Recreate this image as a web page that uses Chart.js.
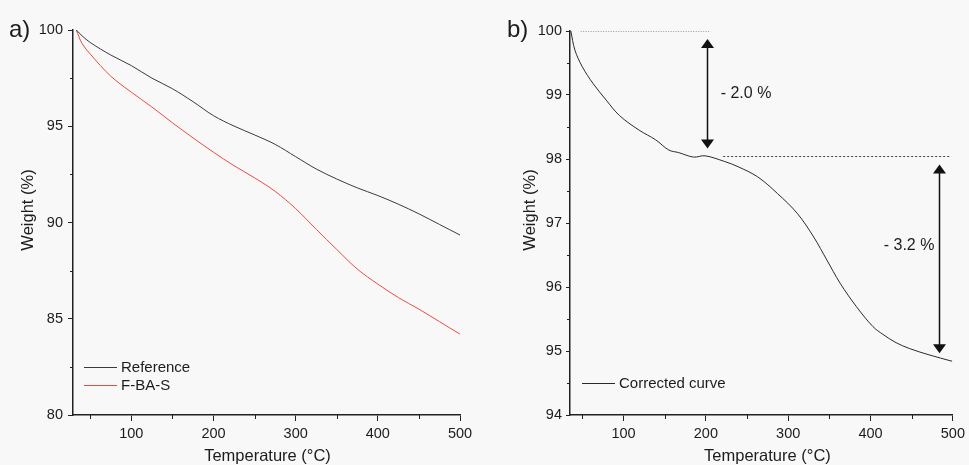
<!DOCTYPE html>
<html>
<head>
<meta charset="utf-8">
<script src="https://cdn.jsdelivr.net/npm/chart.js@4.4.0/dist/chart.umd.min.js"></script>
<style>
  body { margin: 0; background: #f8f8f8; }
  #wrap { position: relative; width: 969px; height: 465px; }
  canvas { position: absolute; top: 0; }
</style>
</head>
<body>
<div id="wrap">
  <canvas id="tgaA" width="480" height="465" style="left:0"></canvas>
  <canvas id="tgaB" width="489" height="465" style="left:480px"></canvas>
</div>
<script>
// ===== a) raw TGA curves =====
const tempA = [33, 40, 50, 75, 100, 125, 150, 175, 200, 225, 250, 275, 300, 325, 350, 375, 400, 425, 450, 475, 500];
const weightReference = [100, 99.7, 99.35, 98.7, 98.15, 97.5, 96.95, 96.28, 95.55, 95.01, 94.55, 94.06, 93.42, 92.78, 92.26, 91.8, 91.4, 90.95, 90.45, 89.9, 89.35];
const weightFBAS = [100, 99.3, 98.75, 97.6, 96.77, 96.0, 95.18, 94.4, 93.65, 92.95, 92.32, 91.62, 90.72, 89.65, 88.6, 87.58, 86.8, 86.1, 85.5, 84.85, 84.2];

// ===== b) corrected curve =====
const tempB = [36, 41, 50, 63, 79, 95, 119, 139, 155, 167, 185, 199, 223, 239, 263, 287, 311, 331, 347, 363, 383, 403, 415, 431, 447, 471, 499];
const weightCorrected = [100, 99.7, 99.44, 99.18, 98.92, 98.68, 98.45, 98.3, 98.14, 98.1, 98.03, 98.05, 97.96, 97.88, 97.72, 97.46, 97.15, 96.78, 96.42, 96.06, 95.69, 95.38, 95.26, 95.13, 95.04, 94.94, 94.84];

// weight levels between the two loss steps
const stepLevels = [100, 98.04, 94.84];

// ===== ticks =====
const xTicks = [100, 200, 300, 400, 500];
const xMinor = [50, 150, 250, 350, 450];
const yTicksA = [80, 85, 90, 95, 100];
const yMinorA = [82.5, 87.5, 92.5, 97.5];
const yTicksB = [94, 95, 96, 97, 98, 99, 100];
const yMinorB = [94.5, 95.5, 96.5, 97.5, 98.5, 99.5];

const FONT = '"Liberation Sans", Arial, sans-serif';
const INK = '#1c1c1c';
const AXIS = '#222';

const pts = (xs, ys) => xs.map((x, i) => ({ x, y: ys[i] }));

// short outside ticks between the labelled ones
const minorTicks = {
  id: 'minorTicks',
  afterDraw(chart, args, opts) {
    const { ctx } = chart;
    const { x, y } = chart.scales;
    ctx.save();
    ctx.strokeStyle = AXIS;
    ctx.lineWidth = 1;
    opts.x.forEach(v => {
      const px = Math.round(x.getPixelForValue(v)) + 0.5;
      ctx.beginPath(); ctx.moveTo(px, x.top); ctx.lineTo(px, x.top + 4); ctx.stroke();
    });
    opts.y.forEach(v => {
      const py = Math.round(y.getPixelForValue(v)) + 0.5;
      ctx.beginPath(); ctx.moveTo(y.right, py); ctx.lineTo(y.right - 3, py); ctx.stroke();
    });
    ctx.restore();
  }
};

// axis titles, placed by hand around the plot
const axisTitles = {
  id: 'axisTitles',
  afterDraw(chart, args, opts) {
    const { ctx, chartArea } = chart;
    ctx.save();
    ctx.font = `16.5px ${FONT}`;
    ctx.fillStyle = INK;
    ctx.textAlign = 'center';
    ctx.textBaseline = 'middle';
    ctx.fillText('Temperature (°C)', (chartArea.left + chartArea.right) / 2 + opts.xShift, 456);
    ctx.translate(opts.yTitleX, 210);
    ctx.rotate(-Math.PI / 2);
    ctx.fillText('Weight (%)', 0, 0);
    ctx.restore();
  }
};

// legend drawn inside the plot, lower left corner
const innerLegend = {
  id: 'innerLegend',
  afterDraw(chart, args, opts) {
    const { ctx, chartArea } = chart;
    ctx.save();
    ctx.font = `15px ${FONT}`;
    ctx.textBaseline = 'middle';
    chart.data.datasets.forEach((ds, i) => {
      const x = chartArea.left + opts.dx;
      const y = chartArea.bottom - opts.dy + i * 18;
      ctx.strokeStyle = ds.borderColor;
      ctx.lineWidth = 1;
      ctx.beginPath(); ctx.moveTo(x, y + 0.5); ctx.lineTo(x + 33, y + 0.5); ctx.stroke();
      ctx.fillStyle = INK;
      ctx.fillText(ds.label, x + 37, y + 1);
    });
    ctx.restore();
  }
};

// panel letter
const panelTag = {
  id: 'panelTag',
  afterDraw(chart, args, opts) {
    const { ctx } = chart;
    ctx.save();
    ctx.font = `24px ${FONT}`;
    ctx.fillStyle = INK;
    ctx.textBaseline = 'alphabetic';
    ctx.fillText(opts.text, opts.x, 37);
    ctx.restore();
  }
};

function arrow(ctx, x, y1, y2) {
  const head = 9, half = 6.5;
  ctx.beginPath(); ctx.moveTo(x, y1 + head - 1); ctx.lineTo(x, y2 - head + 1); ctx.stroke();
  ctx.beginPath(); ctx.moveTo(x, y1); ctx.lineTo(x - half, y1 + head); ctx.lineTo(x + half, y1 + head); ctx.closePath(); ctx.fill();
  ctx.beginPath(); ctx.moveTo(x, y2); ctx.lineTo(x - half, y2 - head); ctx.lineTo(x + half, y2 - head); ctx.closePath(); ctx.fill();
}

// dotted level lines and double arrows for the two loss steps
const lossSteps = {
  id: 'lossSteps',
  afterDatasetsDraw(chart, args, opts) {
    const { ctx } = chart;
    const { x, y } = chart.scales;
    ctx.save();
    opts.guides.forEach((g, i) => {
      const py = Math.round(y.getPixelForValue(stepLevels[i])) + 0.5;
      ctx.strokeStyle = g.color;
      ctx.lineWidth = 1;
      ctx.setLineDash(g.dash);
      ctx.beginPath(); ctx.moveTo(x.getPixelForValue(g.from), py); ctx.lineTo(x.getPixelForValue(g.to), py); ctx.stroke();
    });
    ctx.setLineDash([]);
    ctx.strokeStyle = '#111';
    ctx.lineWidth = 1.5;
    ctx.font = `16px ${FONT}`;
    ctx.textBaseline = 'middle';
    opts.arrows.forEach((a, i) => {
      const top = y.getPixelForValue(stepLevels[i]) + 8;
      const bottom = y.getPixelForValue(stepLevels[i + 1]) - 8;
      const px = Math.round(x.getPixelForValue(a.at)) + 0.5;
      ctx.fillStyle = '#111';
      arrow(ctx, px, top, bottom);
      const loss = (stepLevels[i] - stepLevels[i + 1]).toFixed(1);
      ctx.fillStyle = INK;
      ctx.fillText(`- ${loss} %`, x.getPixelForValue(a.labelX), y.getPixelForValue(a.labelY));
    });
    ctx.restore();
  }
};

function axes(xMin, yMin, yMax, yTicks, yWidth, tickLen, tickPad) {
  return {
    x: {
      type: 'linear',
      min: xMin, max: 500,
      afterBuildTicks: s => { s.ticks = xTicks.map(v => ({ value: v })); },
      afterFit: s => { s.height = 50; },
      border: { color: AXIS, width: 1.5 },
      grid: { drawOnChartArea: false, tickLength: 6, color: AXIS },
      ticks: { color: INK, font: { family: FONT, size: 14.5 }, padding: 4, maxRotation: 0 }
    },
    y: {
      min: yMin, max: yMax,
      afterBuildTicks: s => { s.ticks = yTicks.map(v => ({ value: v })); },
      afterFit: s => { s.width = yWidth; },
      border: { color: AXIS, width: 1.5 },
      grid: { drawOnChartArea: false, tickLength: tickLen, color: AXIS },
      ticks: { color: INK, font: { family: FONT, size: 14.5 }, padding: tickPad }
    }
  };
}

const lineStyle = { borderWidth: 1, pointRadius: 0, tension: 0.35, fill: false };

new Chart(document.getElementById('tgaA'), {
  type: 'line',
  data: {
    datasets: [
      { label: 'Reference', data: pts(tempA, weightReference), borderColor: '#3a3a3a', ...lineStyle },
      { label: 'F-BA-S', data: pts(tempA, weightFBAS), borderColor: '#ea4b40', ...lineStyle }
    ]
  },
  options: {
    responsive: false,
    animation: false,
    layout: { padding: { left: 20, right: 20, top: 30, bottom: 0 } },
    scales: axes(29, 80, 100, yTicksA, 53, 5, 5),
    plugins: {
      legend: { display: false },
      tooltip: { enabled: false },
      minorTicks: { x: xMinor, y: yMinorA },
      axisTitles: { xShift: 1, yTitleX: 28 },
      innerLegend: { dx: 11, dy: 48 },
      panelTag: { text: 'a)', x: 9 }
    }
  },
  plugins: [minorTicks, axisTitles, innerLegend, panelTag]
});

new Chart(document.getElementById('tgaB'), {
  type: 'line',
  data: {
    datasets: [
      { label: 'Corrected curve', data: pts(tempB, weightCorrected), borderColor: '#2a2a2a', ...lineStyle }
    ]
  },
  options: {
    responsive: false,
    animation: false,
    layout: { padding: { left: 41, right: 12, top: 31, bottom: 0 } },
    scales: axes(35, 94, 100, yTicksB, 49, 4, 4),
    plugins: {
      legend: { display: false },
      tooltip: { enabled: false },
      minorTicks: { x: xMinor, y: yMinorB },
      axisTitles: { xShift: 6, yTitleX: 50 },
      innerLegend: { dx: 12, dy: 32 },
      panelTag: { text: 'b)', x: 27 },
      lossSteps: {
        guides: [
          { from: 48, to: 206, color: '#9a9a9a', dash: [1, 1.5] },
          { from: 221, to: 497, color: '#444', dash: [2, 2] }
        ],
        arrows: [
          { at: 201, labelX: 218, labelY: 99.02 },
          { at: 483, labelX: 416, labelY: 96.65 }
        ]
      }
    }
  },
  plugins: [minorTicks, axisTitles, innerLegend, panelTag, lossSteps]
});
</script>
</body>
</html>
